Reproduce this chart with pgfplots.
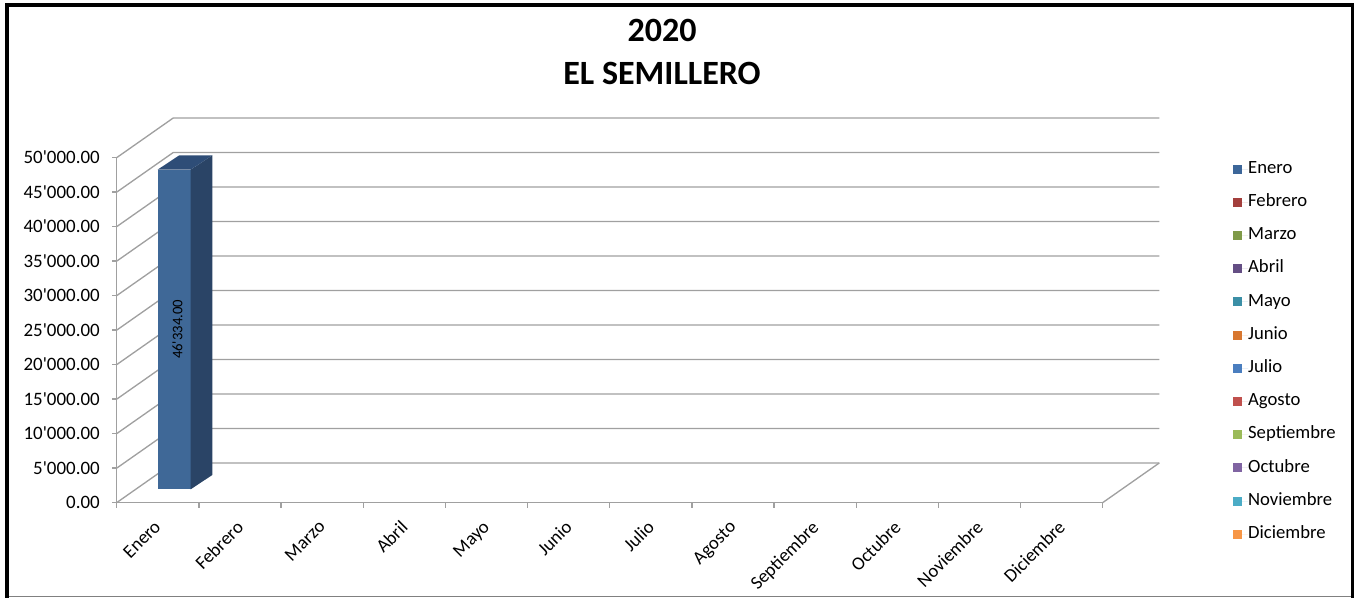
\documentclass[border=0pt]{standalone}
\usepackage{fontspec}
\setmainfont{Carlito}
\usepackage{pgfplots}
\pgfplotsset{compat=1.18}
\usepackage{pgfplotstable}

\definecolor{barfront}{HTML}{3F6897}
\definecolor{barside}{HTML}{2A4466}
\definecolor{bartop}{HTML}{2E4D77}
\definecolor{gridc}{HTML}{A0A0A0}
\definecolor{c1}{HTML}{3C6699}
\definecolor{c2}{HTML}{A33F3C}
\definecolor{c3}{HTML}{7F9A48}
\definecolor{c4}{HTML}{644E84}
\definecolor{c5}{HTML}{3B8FA6}
\definecolor{c6}{HTML}{D8772F}
\definecolor{c7}{HTML}{4A7EBF}
\definecolor{c8}{HTML}{C0504D}
\definecolor{c9}{HTML}{9BBB59}
\definecolor{c10}{HTML}{8064A2}
\definecolor{c11}{HTML}{4BACC6}
\definecolor{c12}{HTML}{F79646}

% monto por mes (solo Enero tiene dato)
\pgfplotstableread{
mes valor
0 46334
}\datos

\begin{document}
\pgfplotstablegetelem{0}{valor}\of\datos
\let\valEnero\pgfplotsretval
\begin{tikzpicture}
\useasboundingbox (0,0) rectangle (1017.75pt,448.5pt);
% marco
\fill[black] (3.75pt,0) rectangle (6.75pt,446.25pt);
\fill[black] (3.75pt,443.25pt) rectangle (1015.5pt,446.25pt);
\fill[black] (1013.25pt,0) rectangle (1015.5pt,446.25pt);
\fill[gray] (6.75pt,0.4pt) rectangle (1013.25pt,1.3pt);

% titulo
\node[anchor=base, font=\fontsize{25.5}{30}\bfseries] at (496.5pt,417pt) {2020};
\node[anchor=base, font=\fontsize{25.5}{30}\bfseries] at (496.5pt,384.75pt) {EL SEMILLERO};

\begin{axis}[
  at={(87.5pt,71.5pt)}, anchor=south west,
  scale only axis, width=739.5pt, height=258.75pt,
  xmin=-0.5, xmax=11.5, ymin=0, ymax=50000,
  clip=false,
  axis x line*=bottom, axis y line*=left,
  axis line style={gridc, line width=1pt, -},
  tick align=outside,
  tick style={gridc, line width=1pt},
  xtick={0,1,2,3,4,5,6,7,8,9,10,11},
  xticklabels={Enero,Febrero,Marzo,Abril,Mayo,Junio,Julio,Agosto,Septiembre,Octubre,Noviembre,Diciembre},
  major x tick style={draw=none},
  minor xtick={-0.5,0.5,1.5,2.5,3.5,4.5,5.5,6.5,7.5,8.5,9.5,10.5,11.5},
  minor tick length=4pt,
  major tick length=3.5pt,
  xticklabel style={rotate=45, anchor=north east, xshift=-8.7pt, yshift=-3.9pt, inner sep=0pt,
    font=\fontsize{14}{16}\selectfont},
  ytick={0,5000,10000,15000,20000,25000,30000,35000,40000,45000,50000},
  scaled y ticks=false,
  yticklabel style={anchor=east, inner sep=0pt, xshift=-9pt,
    font=\fontsize{14.2}{16}\selectfont,
    /pgf/number format/.cd, fixed, fixed zerofill, precision=2,
    1000 sep={\textquotesingle}, assume math mode=true},
  legend image code/.code={\fill[#1] (0pt,-3.4pt) rectangle (6.8pt,3.4pt); \path (0pt,0pt) -- (11.3pt,0pt);},
  legend cell align=left,
  legend style={draw=none, fill=none, at={(1.132,0.990)}, anchor=north west,
    inner sep=0pt, row sep=13.4pt,
    font=\fontsize{14}{16}\selectfont,
    nodes={inner sep=0pt, text height=9pt, text depth=2.5pt}},
]
% paredes 3D: rejilla del fondo y diagonales
\pgfplotsinvokeforeach{0,5000,10000,15000,20000,25000,30000,35000,40000,45000,50000}{
  \draw[gridc, line width=1pt] (axis cs:-0.5,#1) -- (axis cs:0.189,#1+5754) -- (axis cs:12.189,#1+5754);
}
\draw[gridc, line width=1pt] (axis cs:11.5,0) -- (axis cs:12.189,5754);

% barra Enero (cara frontal desde los datos, caras 3D a partir del mismo valor)
\addplot[ybar, bar width=0.4016, bar shift=0.2008, fill=barfront, draw=none,
  yshift=10.05pt, forget plot] table[x=mes, y=valor] {\datos};
\fill[barside, yshift=10.05pt] (axis cs:0.4016,0) -- (axis cs:0.6646,2072)
  -- (axis cs:0.6646,\valEnero+2072) -- (axis cs:0.4016,\valEnero) -- cycle;
\fill[bartop, yshift=10.05pt] (axis cs:0,\valEnero) -- (axis cs:0.4016,\valEnero)
  -- (axis cs:0.6646,\valEnero+2072) -- (axis cs:0.263,\valEnero+2072) -- cycle;
\node[rotate=90, font=\fontsize{11}{13}\selectfont]
  at (axis cs:0.24,\valEnero/2+1942) {46\textquotesingle334.00};

\addlegendimage{fill=c1, draw=none}\addlegendentry{Enero}
\addlegendimage{fill=c2, draw=none}\addlegendentry{Febrero}
\addlegendimage{fill=c3, draw=none}\addlegendentry{Marzo}
\addlegendimage{fill=c4, draw=none}\addlegendentry{Abril}
\addlegendimage{fill=c5, draw=none}\addlegendentry{Mayo}
\addlegendimage{fill=c6, draw=none}\addlegendentry{Junio}
\addlegendimage{fill=c7, draw=none}\addlegendentry{Julio}
\addlegendimage{fill=c8, draw=none}\addlegendentry{Agosto}
\addlegendimage{fill=c9, draw=none}\addlegendentry{Septiembre}
\addlegendimage{fill=c10, draw=none}\addlegendentry{Octubre}
\addlegendimage{fill=c11, draw=none}\addlegendentry{Noviembre}
\addlegendimage{fill=c12, draw=none}\addlegendentry{Diciembre}
\end{axis}
\end{tikzpicture}
\end{document}
